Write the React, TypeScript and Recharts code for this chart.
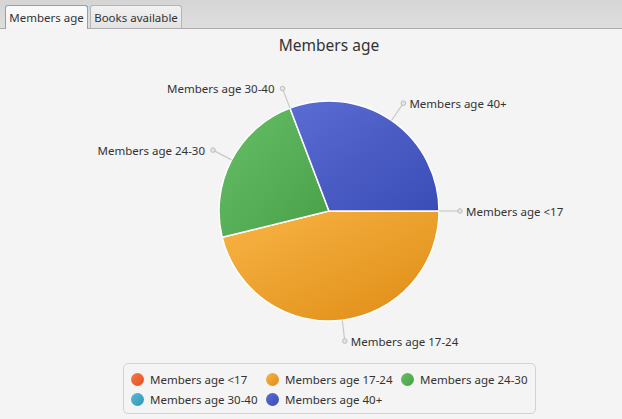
import React from 'react';
import { PieChart, Pie, Cell, Legend } from 'recharts';

const categories = ['Members age <17', 'Members age 17-24', 'Members age 24-30', 'Members age 30-40', 'Members age 40+'];
const memberCounts = [0, 6, 3, 0, 4];
const tabLabels = ['Members age', 'Books available'];
const chartTitle = 'Members age';

const data = categories.map((name, i) => ({ name, value: memberCounts[i] }));

const lightColors = ['#f6784a', '#f9b446', '#66c066', '#5ab8d4', '#5b6cd3'];
const darkColors = ['#df5220', '#de8c14', '#489f48', '#3396b6', '#3a4cb6'];

const RADIAN = Math.PI / 180;
const FONT = '"Noto Sans", "DejaVu Sans", sans-serif';
const FS = 11.5;

function renderLabel(props: any) {
  const { cx, cy, midAngle, outerRadius, name } = props;
  const cos = Math.cos(-midAngle * RADIAN);
  const sin = Math.sin(-midAngle * RADIAN);
  const sx = cx + outerRadius * cos;
  const sy = cy + outerRadius * sin;
  const ex = cx + (outerRadius + 21) * cos;
  const ey = cy + (outerRadius + 21) * sin;
  const right = cos > -0.001;
  return (
    <g>
      <line x1={sx} y1={sy} x2={ex} y2={ey} stroke="#c8c8c8" strokeWidth={1.2} />
      <circle cx={ex} cy={ey} r={2.3} fill="#e4e4e4" stroke="#bdbdbd" strokeWidth={1} />
      <text
        x={right ? ex + 6 : ex - 8}
        y={ey}
        textAnchor={right ? 'start' : 'end'}
        dominantBaseline="central"
        fontSize={FS}
        fontFamily={FONT}
        fill="#333333"
      >
        {name}
      </text>
    </g>
  );
}

function LegendContent(props: any) {
  const payload = props.payload || [];
  return (
    <div
      style={{
        boxSizing: 'border-box',
        width: 413,
        height: 51,
        border: '1px solid #d2d2d2',
        borderRadius: 5,
        padding: '5px 0 0 7px',
        display: 'grid',
        gridTemplateColumns: '135px 135px 135px',
        gridAutoRows: '20px',
        fontFamily: FONT,
        fontSize: FS,
        color: '#333',
      }}
    >
      {payload.map((entry: any, i: number) => {
        const idx = categories.indexOf(entry.value);
        return (
          <div key={i} style={{ display: 'flex', alignItems: 'center', height: 20 }}>
            <span
              style={{
                display: 'inline-block',
                width: 13,
                height: 13,
                borderRadius: '50%',
                background: `linear-gradient(to bottom right, ${lightColors[idx]}, ${darkColors[idx]})`,
                marginRight: 6,
                flex: 'none',
              }}
            />
            <span style={{ whiteSpace: 'nowrap' }}>{entry.value}</span>
          </div>
        );
      })}
    </div>
  );
}

export default function App() {
  return (
    <div style={{ position: 'absolute', left: 0, top: 0, width: 622, height: 419, background: '#f4f4f4', overflow: 'hidden', fontFamily: FONT }}>
      <div style={{ position: 'absolute', left: 0, top: 0, width: 622, height: 28, background: 'linear-gradient(#d5d5d5, #dedede)', borderBottom: '1px solid #acacac' }} />
      <div
        style={{
          position: 'absolute', left: 5, top: 5, width: 83, height: 24, boxSizing: 'border-box',
          border: '1px solid #5fb1e4', borderBottom: 'none', borderRadius: '3px 3px 0 0',
          background: 'linear-gradient(#fafafa, #f4f4f4)', fontSize: FS, color: '#333',
          display: 'flex', alignItems: 'center', justifyContent: 'center', paddingBottom: 1,
        }}
      >
        {tabLabels[0]}
      </div>
      <div
        style={{
          position: 'absolute', left: 90, top: 5, width: 92, height: 23, boxSizing: 'border-box',
          border: '1px solid #b5b5b5', borderBottom: 'none', borderRadius: '3px 3px 0 0',
          background: 'linear-gradient(#f2f2f2, #e2e2e2)', fontSize: FS, color: '#333',
          display: 'flex', alignItems: 'center', justifyContent: 'center',
        }}
      >
        {tabLabels[1]}
      </div>
      <div style={{ position: 'absolute', left: 229, top: 34, width: 200, textAlign: 'center', fontSize: 15.5, color: '#333', lineHeight: '22px' }}>
        {chartTitle}
      </div>
      <div style={{ position: 'absolute', left: 0, top: 0 }}>
        <PieChart width={622} height={419} margin={{ top: 0, right: 0, bottom: 0, left: 0 }}>
          <defs>
            {lightColors.map((c, i) => (
              <linearGradient key={i} id={`grad${i}`} x1="0" y1="0" x2="1" y2="1">
                <stop offset="0%" stopColor={c} />
                <stop offset="100%" stopColor={darkColors[i]} />
              </linearGradient>
            ))}
          </defs>
          <Pie
            data={data}
            dataKey="value"
            nameKey="name"
            cx={329}
            cy={211}
            outerRadius={110}
            startAngle={0}
            endAngle={-360}
            stroke="#ffffff"
            strokeWidth={1.5}
            label={renderLabel}
            labelLine={false}
            isAnimationActive={false}
          >
            {data.map((d, i) => (
              <Cell key={d.name} fill={`url(#grad${i})`} />
            ))}
          </Pie>
          <Legend
            itemSorter={null as any}
            content={<LegendContent />}
            wrapperStyle={{ position: 'absolute', left: 123, top: 363, width: 413, height: 51 }}
          />
        </PieChart>
      </div>
    </div>
  );
}
